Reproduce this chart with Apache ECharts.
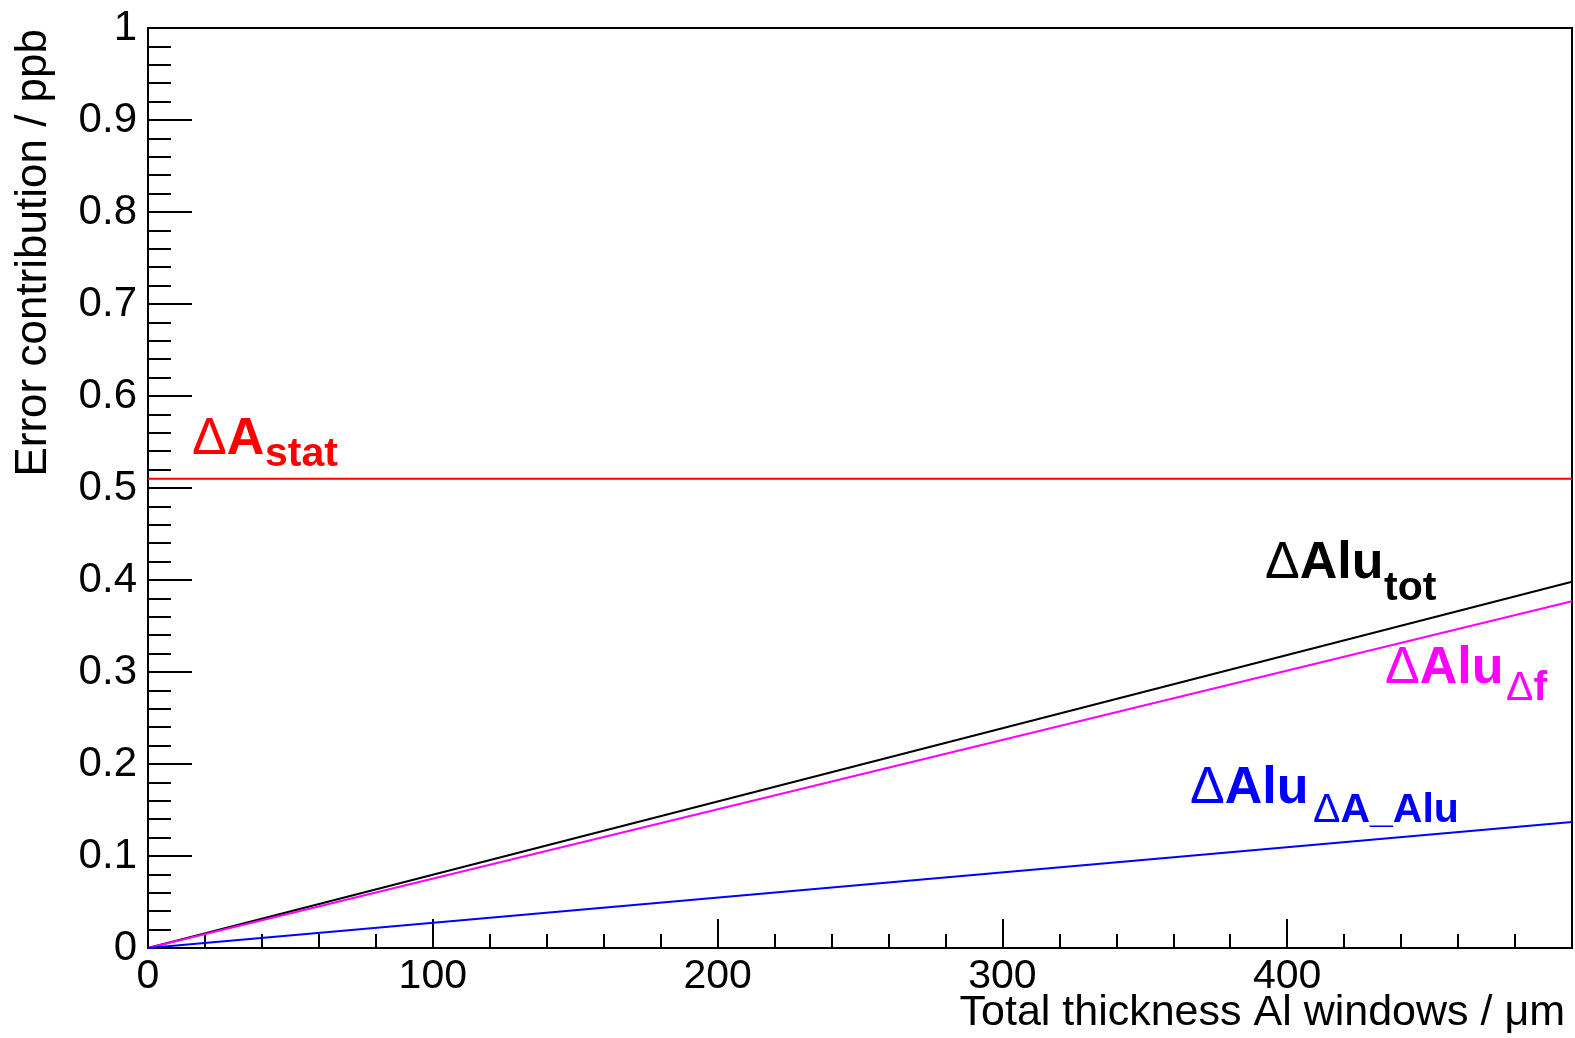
<!DOCTYPE html>
<html>
<head>
<meta charset="utf-8">
<script src="https://cdn.jsdelivr.net/npm/echarts@6/dist/echarts.min.js"></script>
<style>
  html, body { margin: 0; padding: 0; background: #fff; }
  #chart { width: 1575px; height: 1038px; }
</style>
</head>
<body>
<div id="chart"></div>
<script>
// thickness axis (um) and error contributions (ppb)
const thickness = [0, 500]
const statErr = [0.51, 0.51]
const totErr = [0, 0.398]
const dfErr = [0, 0.377]
const aluErr = [0, 0.137]

const FONT = 'Liberation Sans, Arial, Helvetica, sans-serif'
const X_TITLE = 'Total thickness Al windows / μm'

const pairs = ys => thickness.map((x, i) => [x, ys[i]])

// main label ("ΔA", "ΔAlu") + subscript, positioned by baseline
const label = (mainText, subRich, color, x, baseline, subX, subBaseline) => {
  const fm = 52
  const fs = 41
  return [
    {
      type: 'text',
      x: x,
      y: baseline - 0.35 * fm,
      style: {
        text: '{d|Δ}{m|' + mainText + '}',
        align: 'left',
        verticalAlign: 'middle',
        rich: {
          d: { fontSize: fm, fontFamily: FONT, fontWeight: 'normal', fill: color, lineHeight: fm },
          m: { fontSize: fm, fontFamily: FONT, fontWeight: 'bold', fill: color, lineHeight: fm }
        }
      }
    },
    {
      type: 'text',
      x: subX,
      y: subBaseline - 0.35 * fs,
      style: {
        text: subRich,
        align: 'left',
        verticalAlign: 'middle',
        rich: {
          d: { fontSize: fs, fontFamily: FONT, fontWeight: 'normal', fill: color, lineHeight: fs },
          b: { fontSize: fs, fontFamily: FONT, fontWeight: 'bold', fill: color, lineHeight: fs }
        }
      }
    }
  ]
}

const myChart = echarts.init(document.getElementById('chart'), null, { renderer: 'canvas' })

const tickLine = { color: '#000', width: 2 }

const option = {
  animation: false,
  backgroundColor: '#fff',
  grid: {
    left: 148,
    right: 3,
    top: 28,
    bottom: 90,
    show: true,
    borderColor: '#000',
    borderWidth: 2,
    outerBoundsMode: 'none'
  },
  xAxis: {
    type: 'value',
    min: 0,
    max: 500,
    interval: 100,
    axisLine: { show: true, onZero: false, lineStyle: tickLine },
    axisTick: { show: true, inside: true, length: 29, lineStyle: tickLine },
    minorTick: { show: true, splitNumber: 5, length: 14, lineStyle: tickLine },
    splitLine: { show: false },
    minorSplitLine: { show: false },
    axisLabel: {
      fontFamily: FONT,
      fontSize: 41,
      color: '#000',
      margin: 8,
      formatter: v => (v === 500 ? '' : String(v))
    }
  },
  yAxis: {
    type: 'value',
    min: 0,
    max: 1,
    interval: 0.1,
    name: 'Error contribution / ppb',
    nameLocation: 'end',
    nameGap: 0,
    nameRotate: 90,
    nameTextStyle: {
      fontFamily: FONT,
      fontSize: 44,
      color: '#000',
      align: 'right',
      verticalAlign: 'bottom',
      padding: [0, 1, 92, 0]
    },
    axisLine: { show: true, onZero: false, lineStyle: tickLine },
    axisTick: { show: true, inside: true, length: 44, lineStyle: tickLine },
    minorTick: { show: true, splitNumber: 5, length: 23, lineStyle: tickLine },
    splitLine: { show: false },
    minorSplitLine: { show: false },
    axisLabel: {
      fontFamily: FONT,
      fontSize: 42,
      color: '#000',
      margin: 11
    }
  },
  series: [
    { name: 'stat', type: 'line', data: pairs(statErr), symbol: 'none', lineStyle: { color: '#ff0000', width: 2 } },
    { name: 'tot', type: 'line', data: pairs(totErr), symbol: 'none', lineStyle: { color: '#000000', width: 2 } },
    { name: 'df', type: 'line', data: pairs(dfErr), symbol: 'none', lineStyle: { color: '#ff00ff', width: 2 } },
    { name: 'alu', type: 'line', data: pairs(aluErr), symbol: 'none', lineStyle: { color: '#0000ff', width: 2 } }
  ],
  graphic: [
    {
      type: 'text',
      x: 1565,
      y: 1028 - 0.35 * 43,
      style: {
        text: X_TITLE,
        fontFamily: FONT,
        fontSize: 43,
        fill: '#000',
        align: 'right',
        verticalAlign: 'middle'
      }
    },
    ...label('A', '{b|stat}', '#ff0000', 192, 458, 265, 469),
    ...label('Alu', '{b|tot}', '#000000', 1265, 582, 1384, 603),
    ...label('Alu', '{d|Δ}{b|f}', '#ff00ff', 1385, 687, 1506, 703),
    ...label('Alu', '{d|Δ}{b|A_Alu}', '#0000ff', 1190, 807, 1313, 825)
  ]
}

myChart.setOption(option)
</script>
</body>
</html>
